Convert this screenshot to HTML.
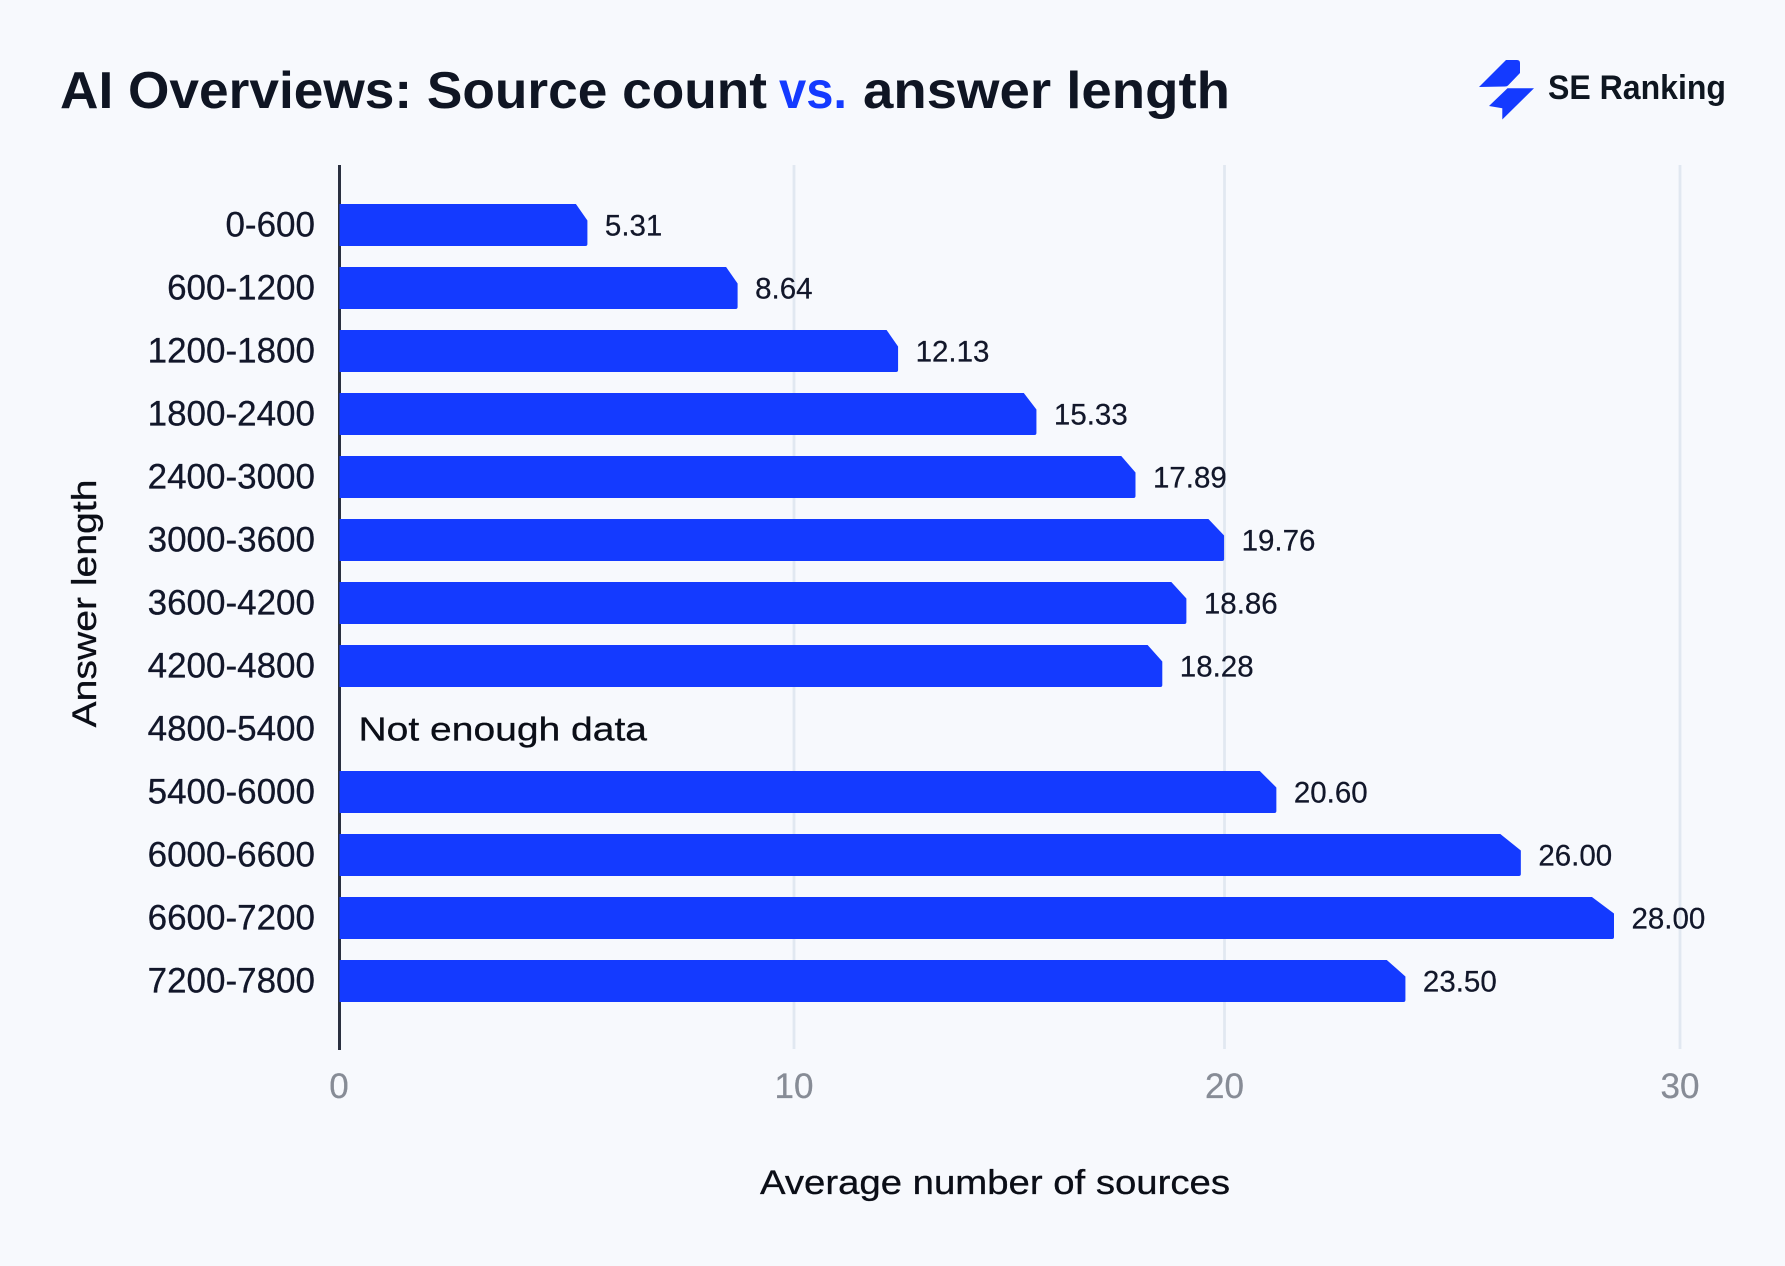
<!DOCTYPE html>
<html lang="en">
<head>
<meta charset="utf-8">
<title>AI Overviews: Source count vs. answer length</title>
<style>
  html, body { margin: 0; padding: 0; background: #f7f9fd; }
  body { width: 1785px; height: 1266px; overflow: hidden; }
  svg { display: block; font-family: "Liberation Sans", sans-serif; }
</style>
</head>
<body>
<svg id="chart" xmlns="http://www.w3.org/2000/svg" width="1785" height="1266" viewBox="0 0 1785 1266">
  <rect x="0" y="0" width="1785" height="1266" fill="#f7f9fd"/>

  <g font-size="52" font-weight="700" fill="#0f1523">
    <text x="60" y="108" textLength="707" lengthAdjust="spacingAndGlyphs">AI Overviews: Source count</text>
    <text x="779" y="108" fill="#143aff" textLength="68" lengthAdjust="spacingAndGlyphs">vs.</text>
    <text x="863" y="108" textLength="367" lengthAdjust="spacingAndGlyphs">answer length</text>
  </g>

  <g>
    <path fill="#143aff" d="M1506 60 L1517 60 Q1520 60 1520 63 L1520 73 L1508 85.5 Q1507 86.5 1505 86.5 L1479 87 Z"/>
    <path fill="#143aff" d="M1507.5 88.3 L1534 88.3 L1502.3 119.5 L1502.3 108.3 L1489 106 Z"/>
    <text x="1548" y="99" font-size="34" font-weight="700" fill="#0e1620" textLength="178" lengthAdjust="spacingAndGlyphs">SE Ranking</text>
  </g>

  <g id="grid"></g>
  <rect x="338" y="165" width="3" height="885" fill="#2a3040"/>
  <g id="bars"></g>
  <g id="value-labels"></g>
  <g id="category-labels"></g>
  <g id="x-ticks"></g>

  <text x="358.5" y="740.7" font-size="33" fill="#0b0e17" stroke="#0b0e17" stroke-width="0.3" textLength="288.5" lengthAdjust="spacingAndGlyphs">Not enough data</text>
  <text x="760" y="1194" font-size="34" fill="#0b0e17" stroke="#0b0e17" stroke-width="0.3" textLength="470" lengthAdjust="spacingAndGlyphs">Average number of sources</text>
  <text transform="translate(96 727.5) rotate(-90)" x="0" y="0" font-size="34" fill="#0b0e17" stroke="#0b0e17" stroke-width="0.3" textLength="248" lengthAdjust="spacingAndGlyphs">Answer length</text>
</svg>

<script>
// ---- chart data ----
const categories = ["0-600", "600-1200", "1200-1800", "1800-2400", "2400-3000", "3000-3600", "3600-4200", "4200-4800", "4800-5400", "5400-6000", "6000-6600", "6600-7200", "7200-7800"];
const averageSources = [5.31, 8.64, 12.13, 15.33, 17.89, 19.76, 18.86, 18.28, null, 20.60, 26.00, 28.00, 23.50];
// The source graphic draws some bars slightly off their printed value (in data units).
const drawnDifference = [-0.01, 0.02, 0.12, -0.01, -0.39, -0.31, -0.24, -0.19, 0, 0, -0.02, 0.03, -0.06];
const tickValues = [0, 10, 20, 30];
// ---- end data ----

const SVG_NS = "http://www.w3.org/2000/svg";
const BLUE = "#143aff";
const INK = "#12172a";

// Axis functions
const xScale = function (v) { return 339 + v * 44.7; };
const bandTop = function (i) { return 204 + i * 63; };
const BAR_H = 42;
// The source grid sits slightly off the linear scale at the two inner ticks.
const tickX = function (t) {
  return xScale(t) + (t === 10 ? 8 : t === 20 ? -8.5 : 0);
};
const chamferWidth = function (barW) {
  return Math.max(11.5, 15.7 + (barW - 870) * 0.0166);
};

const make = function (tag, attrs, parent) {
  const el = document.createElementNS(SVG_NS, tag);
  Object.keys(attrs).forEach(function (k) { el.setAttribute(k, attrs[k]); });
  parent.appendChild(el);
  return el;
};

const gridG = document.getElementById("grid");
const barsG = document.getElementById("bars");
const valuesG = document.getElementById("value-labels");
const catsG = document.getElementById("category-labels");
const ticksG = document.getElementById("x-ticks");

tickValues.forEach(function (t) {
  const px = tickX(t);
  if (t !== 0) {
    const line = make("rect", { x: px - 1.4, y: 165, width: 2.8, height: 884, fill: "#e1e8f1" }, gridG);
    
    
  }
  const label = make("text", { x: px, y: 1098, "font-size": 35, fill: "#878c96", "text-anchor": "middle", stroke: "#878c96", "stroke-width": 0.3 }, ticksG);
  label.textContent = String(t);
  
  
});

categories.forEach(function (cat, i) {
  const top = bandTop(i);
  const mid = top + BAR_H / 2;

  const catLabel = make("text", { x: 315, y: mid + 11.7, "font-size": 35, fill: INK, stroke: INK, "stroke-width": 0.3, "text-anchor": "end" }, catsG);
  catLabel.textContent = cat;
  
  

  const v = averageSources[i];
  if (v === null) return;

  const shoulder = xScale(v + drawnDifference[i]);
  const c = chamferWidth(shoulder - 339);
  const right = shoulder + c;
  const bottom = top + BAR_H;
  const d = "M339.5 " + top +
    " L" + shoulder + " " + top +
    " L" + right + " " + (top + 16.5) +
    " L" + right + " " + (bottom - 2) +
    " Q" + right + " " + bottom + " " + (right - 2) + " " + bottom +
    " L339.5 " + bottom + " Z";
  const bar = make("path", { d: d, fill: BLUE }, barsG);
  
  

  const valueLabel = make("text", { x: right + 17.5, y: mid + 10.5, "font-size": 29.5, fill: INK, stroke: INK, "stroke-width": 0.25 }, valuesG);
  valueLabel.textContent = v.toFixed(2);
  
  
});
</script>
</body>
</html>
